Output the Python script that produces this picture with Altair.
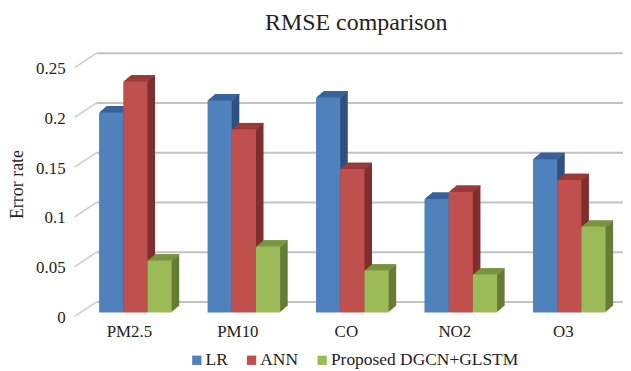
import altair as alt
import pandas as pd

chart_title = "RMSE comparison"
y_title = "Error rate"
categories = ["PM2.5", "PM10", "CO", "NO2", "O3"]
series = ["LR", "ANN", "Proposed DGCN+GLSTM"]
lr = [0.201, 0.213, 0.216, 0.114, 0.154]
ann = [0.232, 0.184, 0.144, 0.121, 0.133]
proposed = [0.052, 0.066, 0.042, 0.038, 0.086]
y_ticks = [0, 0.05, 0.1, 0.15, 0.2, 0.25]

# styles
FONT = "Liberation Serif, Times New Roman, DejaVu Serif, serif"
TEXT = "#222222"
front_colors = ["#4f81bd", "#c0504d", "#9bbb59"]
side_colors = ["#2f5183", "#7f2f2d", "#657d35"]
top_colors = ["#3b68a0", "#a33f3c", "#7f9c45"]
BAR_W = 0.223          # bar width in group units
DEPTH = 8              # extrusion steps
DX, DY = 0.95, 0.8     # per-step pixel shift
BX, BY = 6.5, -5.0     # bar plane offset from front plane
W, H = 551, 250

rows = []
for gi, cat in enumerate(categories):
    for si, (name, vals) in enumerate(zip(series, [lr, ann, proposed])):
        rows.append({"category": cat, "gi": gi, "series": name, "si": si, "value": vals[gi]})
df = pd.DataFrame(rows)
ticks_df = pd.DataFrame({"tick": y_ticks})
title_df = pd.DataFrame({"label": [chart_title]})
ytitle_df = pd.DataFrame({"label": [y_title]})

xscale = alt.Scale(domain=[-0.5, -0.5 + W / 109.0], nice=False, zero=False)
yscale = alt.Scale(domain=[0, 0.25], nice=False, zero=True)

label_expr = "[" + ",".join("'" + c + "'" for c in categories) + "][datum.value]"

xaxis = alt.Axis(
    title=None, values=[0, 1, 2, 3, 4], labelExpr=label_expr, grid=False,
    domain=False, ticks=False, tickSize=0, labelPadding=6, labelFont=FONT,
    labelFontSize=17, labelColor=TEXT, labelAngle=0)
yaxis = alt.Axis(
    title=None, values=y_ticks, format="~g", grid=False, domain=False,
    ticks=False, tickSize=0, labelPadding=9.5, labelFont=FONT, labelFontSize=17,
    labelColor=TEXT)


def bar_layer(kind, k):
    if kind == "front":
        mark = alt.MarkDef(type="bar", xOffset=BX, x2Offset=BX, yOffset=BY, y2Offset=BY)
        y2 = alt.Y2("zero:Q")
        colors = front_colors
    elif kind == "side":
        off = BY - k * DY
        mark = alt.MarkDef(type="bar", xOffset=BX + k * DX, x2Offset=BX + k * DX,
                           yOffset=off, y2Offset=off)
        y2 = alt.Y2("zero:Q")
        colors = side_colors
    else:
        mark = alt.MarkDef(type="bar", xOffset=BX + k * DX, x2Offset=BX + k * DX,
                           yOffset=BY - k * DY, y2Offset=BY - (k - 1) * DY + 0.3)
        y2 = alt.Y2("value:Q")
        colors = top_colors
    if kind == "front":
        legend = alt.Legend(
            title=None, orient="none", legendX=114, legendY=284, direction="horizontal",
            columns=3, symbolType="square", symbolSize=88, symbolStrokeWidth=0,
            labelFont=FONT, labelFontSize=17.5, labelColor=TEXT, labelOffset=0,
            labelLimit=400, columnPadding=15, padding=0,
        )
        color = alt.Color("series:N", scale=alt.Scale(domain=series, range=colors), legend=legend)
    else:
        color = alt.Color("series:N", scale=alt.Scale(domain=series, range=colors), legend=None)
    return alt.Chart(df, mark=mark).transform_calculate(
        xl=f"datum.gi + (datum.si - 1.5) * {BAR_W}",
        xr=f"datum.gi + (datum.si - 0.5) * {BAR_W}",
        zero="0",
    ).encode(
        x=alt.X("xl:Q", scale=xscale, axis=xaxis),
        x2=alt.X2("xr:Q"),
        y=alt.Y("value:Q", scale=yscale, axis=yaxis),
        y2=y2,
        color=color,
    )


grid = alt.Chart(ticks_df).mark_rule(color="#c2c2c2", strokeWidth=2, yOffset=-15.5).encode(
    y=alt.Y("tick:Q", scale=yscale, axis=yaxis),
    x=alt.value(22), x2=alt.value(W),
)
slant = alt.Chart(ticks_df).mark_rule(color="#cccccc", strokeWidth=1.5, yOffset=-1, y2Offset=-15.5).encode(
    y=alt.Y("tick:Q", scale=yscale, axis=yaxis),
    y2=alt.Y2("tick:Q"),
    x=alt.value(0), x2=alt.value(22),
)

layers = [grid, slant]
for k in range(DEPTH, 0, -1):
    layers.append(bar_layer("side", k))
    layers.append(bar_layer("top", k))
layers.append(bar_layer("front", 0))

title = alt.Chart(title_df).mark_text(
    font=FONT, fontSize=24, color=TEXT, align="center", baseline="alphabetic"
).encode(text="label:N", x=alt.value(283), y=alt.value(-38.7))
ytitle = alt.Chart(ytitle_df).mark_text(
    font=FONT, fontSize=18, color=TEXT, align="center", baseline="alphabetic", angle=270
).encode(text="label:N", x=alt.value(-52), y=alt.value(116.5))
layers += [title, ytitle]

chart = alt.layer(*layers).resolve_scale(color="independent").properties(
    width=W, height=H,
    autosize=alt.AutoSizeParams(type="none"),
    padding={"left": 67, "top": 60, "right": 0, "bottom": 53},
    background="white",
).configure_view(strokeWidth=0)

chart.save("out.html", embed_options={"renderer": "svg", "actions": False})
